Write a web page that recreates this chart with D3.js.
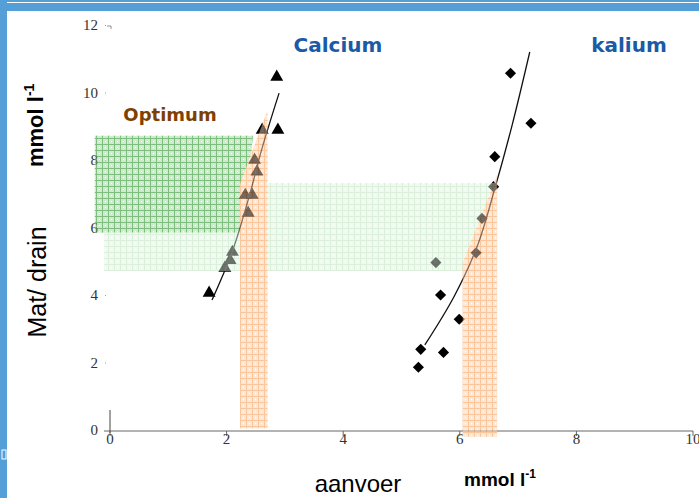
<!DOCTYPE html>
<html>
<head>
<meta charset="utf-8">
<script src="https://cdn.jsdelivr.net/npm/d3@7"></script>
<style>
  body { margin: 0; background: #fff; }
  svg { display: block; }
</style>
</head>
<body>
<div id="chart"></div>
<script>
// Calcium (triangles) and kalium (diamonds): aanvoer vs mat/drain, mmol/l
var calciumX = [1.70, 1.97, 2.06, 2.10, 2.37, 2.32, 2.44, 2.48, 2.52, 2.61, 2.88, 2.86];
var calciumY = [4.06, 4.80, 5.03, 5.27, 6.43, 6.96, 6.96, 8.00, 7.65, 8.89, 8.89, 10.46];
var kaliumX = [6.87, 7.22, 6.60, 6.58, 6.38, 6.28, 5.59, 5.67, 5.99, 5.33, 5.72, 5.29];
var kaliumY = [10.57, 9.09, 8.10, 7.21, 6.27, 5.25, 4.96, 4.00, 3.28, 2.39, 2.30, 1.86];

// fitted curves
var calciumFitX = [1.75, 2.10, 2.40, 2.60, 2.90];
var calciumFitY = [3.85, 5.30, 7.00, 8.30, 9.98];
var kaliumFitX = [5.40, 5.90, 6.30, 6.60, 6.90, 7.20];
var kaliumFitY = [2.52, 3.95, 5.45, 7.15, 9.05, 11.20];

var xTicks = [0, 2, 4, 6, 8, 10];
var yTicks = [0, 2, 4, 6, 8, 10, 12];

// optimum zones (polygons in data units)
var darkGreenZone = [[-0.26, 8.72], [2.45, 8.72], [2.30, 5.85], [-0.26, 5.85]];
var lightGreenZone = [[-0.10, 7.32], [6.60, 7.32], [6.15, 4.71], [-0.10, 4.71]];
var caOrangeZone = [[2.23, 0.05], [2.23, 7.30], [2.70, 9.45], [2.70, 0.05]];
var kOrangeZone = [[6.05, -0.20], [6.05, 4.95], [6.64, 7.55], [6.64, -0.20]];

var width = 699, height = 498;

var svg = d3.select('#chart')
    .append('svg')
    .attr('width', width)
    .attr('height', height);

// slide frame
svg.append('rect').attr('x', 0).attr('y', 0).attr('width', width).attr('height', 11).attr('fill', '#559fd8');
svg.append('rect').attr('x', 0).attr('y', 2).attr('width', width).attr('height', 1).attr('fill', '#ffffff');
svg.append('rect').attr('x', 0).attr('y', 0).attr('width', 7).attr('height', height).attr('fill', '#559fd8');
svg.append('rect').attr('x', 2).attr('y', 450).attr('width', 4).attr('height', 9)
    .attr('fill', 'none').attr('stroke', '#fff').attr('stroke-width', 1);

var x = d3.scaleLinear().domain([0, 10]).range([110, 693]);
var y = d3.scaleLinear().domain([0, 12]).range([430, 25]);

// plaid patterns
var defs = svg.append('defs');
function plaid(id, base, line) {
    var p = defs.append('pattern')
        .attr('id', id)
        .attr('patternUnits', 'userSpaceOnUse')
        .attr('width', 6).attr('height', 6);
    p.append('rect').attr('width', 6).attr('height', 6).attr('fill', base);
    p.append('rect').attr('x', 0).attr('y', 0).attr('width', 6).attr('height', 1).attr('fill', line);
    p.append('rect').attr('x', 0).attr('y', 0).attr('width', 1).attr('height', 6).attr('fill', line);
    p.append('rect').attr('x', 3).attr('y', 3).attr('width', 1).attr('height', 1).attr('fill', '#fff');
}
plaid('pDark', '#d0ead0', '#7cbf7c');
plaid('pLight', '#f0faf0', '#daf0da');
plaid('pOrange', '#fee7d4', '#fcc69a');

var zone = d3.line()
    .x(function(d) { return x(d[0]); })
    .y(function(d) { return y(d[1]); });

function drawZones(op) {
    var g = svg.append('g').attr('opacity', op);
    [[lightGreenZone, 'pLight'], [darkGreenZone, 'pDark'], [caOrangeZone, 'pOrange'], [kOrangeZone, 'pOrange']]
        .forEach(function(z) {
            g.append('path').datum(z[0])
                .attr('d', function(d) { return zone(d) + 'Z'; })
                .attr('fill', 'url(#' + z[1] + ')');
        });
}

// zones underneath
drawZones(1);

// axes
svg.append('line')
    .attr('x1', x(0) - 6).attr('x2', x(10))
    .attr('y1', y(0) + 1).attr('y2', y(0) + 1)
    .attr('stroke', '#666').attr('stroke-width', 1);
svg.append('line')
    .attr('x1', x(0)).attr('x2', x(0))
    .attr('y1', y(0) - 20).attr('y2', y(0) + 3)
    .attr('stroke', '#444').attr('stroke-width', 1);

svg.selectAll('.xtick')
    .data(xTicks)
    .enter()
    .append('line')
    .attr('class', 'xtick')
    .attr('x1', function(d) { return x(d); })
    .attr('x2', function(d) { return x(d); })
    .attr('y1', y(0) + 1).attr('y2', y(0) + 6)
    .attr('stroke', '#666');

svg.selectAll('.xlab')
    .data(xTicks)
    .enter()
    .append('text')
    .attr('class', 'xlab')
    .attr('x', function(d) { return x(d); })
    .attr('y', y(0) + 14)
    .attr('text-anchor', 'middle')
    .style('font-family', '"Liberation Serif", serif')
    .style('font-size', '15px')
    .style('fill', '#333')
    .text(function(d) { return d; });

svg.selectAll('.ytick')
    .data(yTicks.filter(function(d) { return d > 0; }))
    .enter()
    .append('rect')
    .attr('class', 'ytick')
    .attr('x', x(0) - 5).attr('y', function(d) { return y(d); })
    .attr('width', 1).attr('height', 1)
    .attr('fill', '#999');

svg.append('path')
    .attr('d', 'M' + (x(0) - 3) + ',' + (y(12) + 1) + 'h4v3')
    .attr('fill', 'none').attr('stroke', '#777').attr('stroke-width', 0.8);

svg.selectAll('.ylab')
    .data(yTicks)
    .enter()
    .append('text')
    .attr('class', 'ylab')
    .attr('x', x(0) - 12)
    .attr('y', function(d) { return y(d) + 5; })
    .attr('text-anchor', 'end')
    .style('font-family', '"Liberation Serif", serif')
    .style('font-size', '15px')
    .style('fill', '#333')
    .text(function(d) { return d; });

// points
var tri = d3.symbol().type(d3.symbolTriangle).size(72);
var dia = d3.symbol().type(d3.symbolSquare).size(62);

svg.selectAll('.ca')
    .data(calciumX)
    .enter()
    .append('path')
    .attr('class', 'ca')
    .attr('d', tri)
    .attr('transform', function(d, i) { return 'translate(' + x(d) + ',' + y(calciumY[i]) + ')'; })
    .attr('fill', '#000');

svg.selectAll('.k')
    .data(kaliumX)
    .enter()
    .append('path')
    .attr('class', 'k')
    .attr('d', dia)
    .attr('transform', function(d, i) { return 'translate(' + x(d) + ',' + y(kaliumY[i]) + ') rotate(45)'; })
    .attr('fill', '#000');

// fitted lines
var line = d3.line()
    .x(function(d) { return x(d[0]); })
    .y(function(d) { return y(d[1]); })
    .curve(d3.curveCatmullRom);

svg.append('path')
    .datum(calciumFitX.map(function(d, i) { return [d, calciumFitY[i]]; }))
    .attr('d', line)
    .attr('fill', 'none').attr('stroke', '#111').attr('stroke-width', 1.3);

svg.append('path')
    .datum(kaliumFitX.map(function(d, i) { return [d, kaliumFitY[i]]; }))
    .attr('d', line)
    .attr('fill', 'none').attr('stroke', '#111').attr('stroke-width', 1.3);

// zones again, translucent, over the marks
drawZones(0.45);

// titles
svg.append('text')
    .attr('x', 338).attr('y', 52)
    .attr('text-anchor', 'middle')
    .style('font-family', '"DejaVu Sans", sans-serif')
    .style('font-weight', 'bold')
    .style('font-size', '20px')
    .style('fill', '#1a5aa6')
    .text('Calcium');

svg.append('text')
    .attr('x', 629).attr('y', 52)
    .attr('text-anchor', 'middle')
    .style('font-family', '"DejaVu Sans", sans-serif')
    .style('font-weight', 'bold')
    .style('font-size', '20px')
    .style('fill', '#1a5aa6')
    .text('kalium');

svg.append('text')
    .attr('x', 170).attr('y', 121)
    .attr('text-anchor', 'middle')
    .style('font-family', '"DejaVu Sans", sans-serif')
    .style('font-weight', 'bold')
    .style('font-size', '18px')
    .style('fill', '#7f3f00')
    .text('Optimum');

// axis titles
svg.append('text')
    .attr('x', 358).attr('y', 492)
    .attr('text-anchor', 'middle')
    .style('font-family', '"Liberation Sans", Arial, sans-serif')
    .style('font-size', '24px')
    .style('fill', '#000')
    .text('aanvoer');

var unitB = svg.append('text')
    .attr('x', 464).attr('y', 486)
    .style('font-family', '"Liberation Sans", Arial, sans-serif')
    .style('font-weight', 'bold')
    .style('font-size', '19px')
    .style('fill', '#000');
unitB.append('tspan').text('mmol l');
unitB.append('tspan').attr('dy', -8).style('font-size', '12px').text('-1');

svg.append('text')
    .attr('transform', 'translate(46,282) rotate(-90)')
    .attr('text-anchor', 'middle')
    .style('font-family', '"Liberation Sans", Arial, sans-serif')
    .style('font-size', '25px')
    .style('fill', '#000')
    .text('Mat/ drain');

var unitL = svg.append('text')
    .attr('transform', 'translate(43,167) rotate(-90)')
    .style('font-family', '"Liberation Sans", Arial, sans-serif')
    .style('font-weight', 'bold')
    .style('font-size', '22px')
    .style('fill', '#000');
unitL.append('tspan').text('mmol l');
unitL.append('tspan').attr('dy', -9).style('font-size', '14px').text('-1');
</script>
</body>
</html>
